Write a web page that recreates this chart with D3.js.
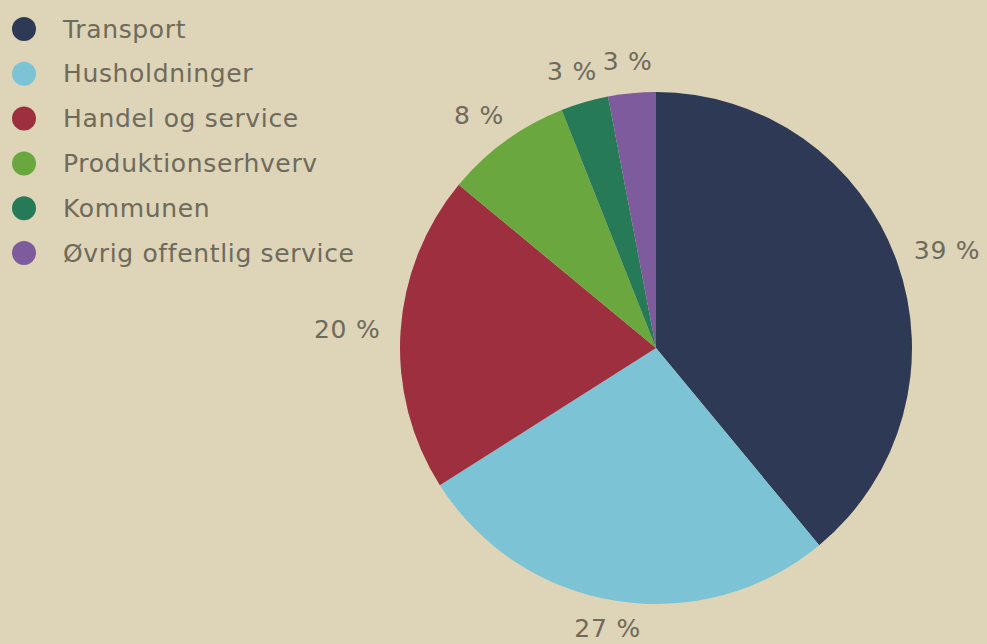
<!DOCTYPE html>
<html><head><meta charset="utf-8">
<script src="https://cdn.jsdelivr.net/npm/d3@7"></script>
<style>html,body{margin:0;padding:0;background:#ded4b7;}svg{display:block;}</style>
</head><body>
<svg id="c" width="987" height="644"></svg>
<script>
const categories = ["Transport","Husholdninger","Handel og service","Produktionserhverv","Kommunen","Øvrig offentlig service"];
const values = [39, 27, 20, 8, 3, 3];
const labels = ["39 %","27 %","20 %","8 %","3 %","3 %"];
const colors = ["#2e3a55","#7cc4d5","#9e2f3e","#6aa73f","#267a58","#7d5b9c"];

const W = 987, H = 644;
const svg = d3.select("#c");
svg.append("rect").attr("width",W).attr("height",H).attr("fill","#ded4b7");
const textColor = "#6e6a5c";
const font = "'DejaVu Sans', Verdana, sans-serif";

const cx = 656, cy = 348, r = 256;
const pie = d3.pie().sort(null).value(d => d)(values);
const arc = d3.arc().innerRadius(0).outerRadius(r);
const g = svg.append("g").attr("transform", `translate(${cx},${cy})`);
g.selectAll("path").data(pie).join("path")
  .attr("d", arc).attr("fill", (d,i) => colors[i]);

g.selectAll("text").data(pie).join("text")
  .attr("font-family", font).attr("font-size", 25).attr("fill", textColor)
  .attr("letter-spacing", "0.8px")
  .attr("text-anchor","middle").attr("dominant-baseline","central")
  .text((d,i) => labels[i])
  .each(function(d){
    const a = (d.startAngle + d.endAngle)/2;
    const s = Math.sin(a), c = -Math.cos(a);
    const bb = this.getBBox();
    const R = r + 20;
    const x = R*s + (bb.width/2)*s;
    let y = 288*c;
    y = Math.min(y, H - cy - bb.height/2 - 1);
    d3.select(this).attr("x", x).attr("y", y);
  });

const leg = svg.append("g");
const ly = d3.scalePoint().domain(categories).range([29, 253]);
categories.forEach((cat,i) => {
  leg.append("circle").attr("cx",24).attr("cy",ly(cat)).attr("r",12).attr("fill",colors[i]);
  leg.append("text").attr("x",63).attr("y",ly(cat))
    .attr("font-family", font).attr("font-size",25).attr("fill",textColor)
    .attr("letter-spacing","0.65px")
    .attr("dominant-baseline","central").text(cat);
});
</script>
</body></html>
